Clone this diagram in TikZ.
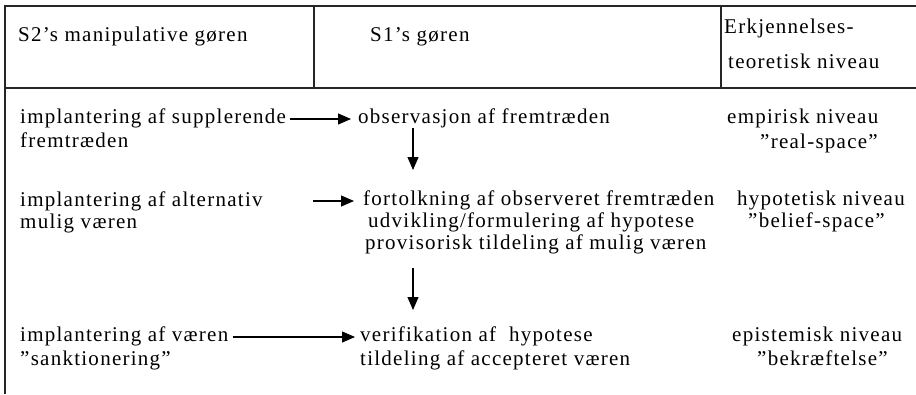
\documentclass[tikz,border=0pt]{standalone}
\usepackage{fontspec}
\setmainfont{Liberation Serif}[LetterSpace=6]
\usetikzlibrary{arrows.meta, calc}

\begin{document}
\begin{tikzpicture}[x=1pt, y=1pt,
  txt/.style={anchor=base west, inner sep=0pt, text height=13pt, text depth=5pt, font=\fontsize{21}{25}\selectfont},
  arr/.style={-{Triangle[length=13pt,width=11pt]}, line width=1.1pt},
  rule/.style={line width=1.3pt, black!85}]
\useasboundingbox (0,0) rectangle (916,-394);

% Table rules
\draw[rule] (5,-394) -- (5,-6) -- (916,-6);
\draw[rule] (5,-88) -- (916,-88);
\draw[rule] (314,-6) -- (314,-88);
\draw[rule] (721,-6) -- (721,-88);

% Header
\node[txt] (hS2) at (18,-41) {S2’s manipulative gøren};
\node[txt] (hS1) at (370,-41) {S1’s gøren};
\node[txt] (hEr) at (724,-33) {Erkjennelses-};
\node[txt] (hTe) at (728,-68) {teoretisk niveau};

% Row 1
\node[txt] (s2a) at (20,-123) {implantering af supplerende};
\node[txt] (s2b) at (20,-147) {fremtræden};
\node[txt] (s1a) at (358,-123) {observasjon af fremtræden};
\node[txt] (lv1a) at (727,-123) {empirisk niveau};
\node[txt] (lv1b) at (760,-148) {”real-space”};

% Row 2
\node[txt] (s2c) at (20,-206) {implantering af alternativ};
\node[txt] (s2d) at (20,-228) {mulig væren};
\node[txt] (s1b) at (363,-205) {fortolkning af observeret fremtræden};
\node[txt] (s1c) at (368,-227) {udvikling/formulering af hypotese};
\node[txt] (s1d) at (365,-249) {provisorisk tildeling af mulig væren};
\node[txt] (lv2a) at (737,-205) {hypotetisk niveau};
\node[txt] (lv2b) at (748,-227) {”belief-space”};

% Row 3
\node[txt] (s2e) at (20,-341) {implantering af væren};
\node[txt] (s2f) at (20,-365) {”sanktionering”};
\node[txt] (s1e) at (360,-341) {verifikation af\ \ hypotese};
\node[txt] (s1f) at (360,-365) {tildeling af accepteret væren};
\node[txt] (lv3a) at (732,-341) {epistemisk niveau};
\node[txt] (lv3b) at (757,-365) {”bekræftelse”};

% Arrows
\coordinate (r2) at (313,-201);
\coordinate (d1a) at (413,-128);
\coordinate (d1b) at (413,-170);
\coordinate (d2a) at (413,-268);
\coordinate (d2b) at (413,-310);
\draw[arr, shorten <=4pt, shorten >=7pt] (s2a.east) -- (s1a.west);
\draw[arr, shorten >=9pt] (r2) -- (s1b.west);
\draw[arr, shorten <=4pt, shorten >=5pt] (s2e.east) -- (s1e.west);
\draw[arr] (d1a) -- (d1b);
\draw[arr] (d2a) -- (d2b);
\end{tikzpicture}
\end{document}
